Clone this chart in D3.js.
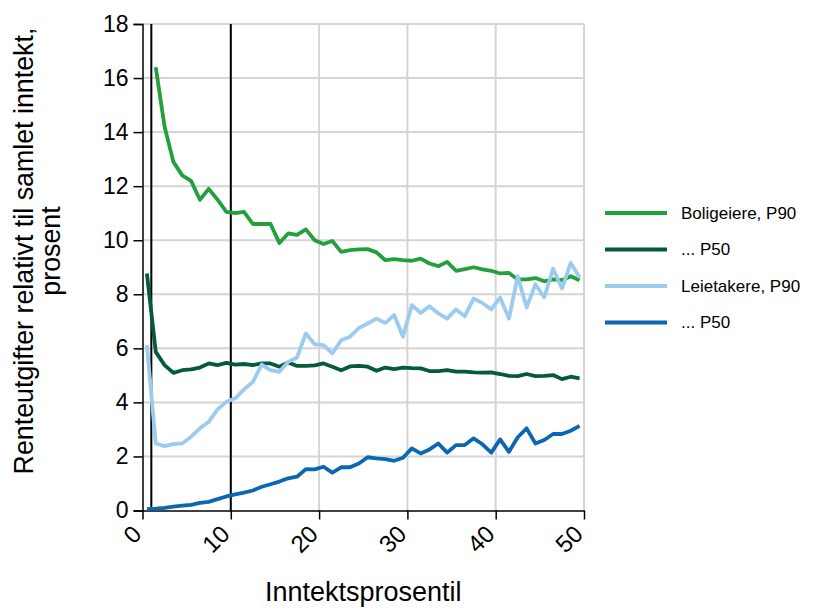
<!DOCTYPE html>
<html>
<head>
<meta charset="utf-8">
<script src="https://cdn.jsdelivr.net/npm/d3@7"></script>
<style>
  body { margin: 0; background: #fff; }
  svg { font-family: "Liberation Sans", Arial, sans-serif; }
</style>
</head>
<body>
<div id="showBox"></div>
<script>
// percentiles 0.5 .. 49.5
const percentiles = d3.range(50).map(i => i + 0.5)

const eierP90 = [null, 16.4, 14.2, 12.9, 12.4, 12.2, 11.5, 11.9, 11.5, 11.05,
    11.0, 11.05, 10.6, 10.6, 10.6, 9.9, 10.25, 10.2, 10.4, 10.0,
    9.86, 9.97, 9.57, 9.63, 9.66, 9.67, 9.55, 9.26, 9.3, 9.26,
    9.24, 9.32, 9.14, 9.04, 9.2, 8.87, 8.93, 9.0, 8.92, 8.87,
    8.77, 8.79, 8.55, 8.55, 8.6, 8.48, 8.55, 8.52, 8.67, 8.52]

const eierP50 = [8.77, 5.87, 5.38, 5.09, 5.19, 5.22, 5.29, 5.44, 5.38, 5.46,
    5.4, 5.42, 5.38, 5.44, 5.44, 5.32, 5.48, 5.35, 5.35, 5.37,
    5.44, 5.32, 5.19, 5.33, 5.35, 5.32, 5.17, 5.29, 5.23, 5.29,
    5.27, 5.26, 5.16, 5.16, 5.19, 5.14, 5.14, 5.11, 5.1, 5.11,
    5.05, 4.98, 4.97, 5.05, 4.97, 4.98, 5.01, 4.86, 4.95, 4.89]

const leieP90 = [6.12, 2.48, 2.38, 2.46, 2.48, 2.73, 3.04, 3.28, 3.74, 4.02,
    4.15, 4.48, 4.76, 5.4, 5.19, 5.13, 5.5, 5.66, 6.55, 6.15,
    6.12, 5.81, 6.3, 6.43, 6.75, 6.92, 7.1, 6.94, 7.23, 6.43,
    7.6, 7.31, 7.56, 7.29, 7.1, 7.44, 7.19, 7.84, 7.68, 7.44,
    7.88, 7.1, 8.67, 7.51, 8.37, 7.88, 8.95, 8.21, 9.16, 8.62]

const leieP50 = [0.05, 0.07, 0.1, 0.14, 0.18, 0.21, 0.28, 0.32, 0.42, 0.52,
    0.6, 0.66, 0.74, 0.88, 0.97, 1.07, 1.19, 1.25, 1.53, 1.52,
    1.62, 1.4, 1.6, 1.6, 1.74, 1.97, 1.93, 1.9, 1.84, 1.95,
    2.3, 2.11, 2.26, 2.48, 2.14, 2.42, 2.42, 2.67, 2.45, 2.14,
    2.63, 2.17, 2.71, 3.04, 2.48, 2.61, 2.83, 2.83, 2.95, 3.13]

const seriesNames = ["Boligeiere, P90", "... P50", "Leietakere, P90", "... P50"]
const seriesColors = ["#23a03c", "#045a3c", "#9ccbf0", "#0b67b2"]
const seriesValues = [eierP90, eierP50, leieP90, leieP50]

const xTicks = [0, 10, 20, 30, 40, 50]
const yTicks = [0, 2, 4, 6, 8, 10, 12, 14, 16, 18]
const markerLines = [1, 10]

const width = 832, height = 608
const margin = {left: 142.5, right: 248, top: 24, bottom: 97.5}

const svg = d3.select("#showBox").append("svg")
    .attr("width", width).attr("height", height)

const x = d3.scaleLinear().domain([0, 50]).range([margin.left, width - margin.right])
const y = d3.scaleLinear().domain([0, 18]).range([height - margin.bottom, margin.top])

// grid
svg.append("g")
    .attr("stroke", "#d4d4d4")
    .attr("stroke-width", 2)
    .call(g => g.selectAll(".h").data(yTicks.filter(d => d > 0)).join("line")
        .attr("x1", x(0)).attr("x2", x(50))
        .attr("y1", d => y(d)).attr("y2", d => y(d)))
    .call(g => g.selectAll(".v").data(xTicks.filter(d => d > 0)).join("line")
        .attr("y1", y(0)).attr("y2", y(18))
        .attr("x1", d => x(d)).attr("x2", d => x(d)))

// vertical marker lines
svg.append("g")
    .selectAll("line")
    .data(markerLines)
    .join("line")
    .attr("x1", d => x(d)).attr("x2", d => x(d))
    .attr("y1", y(0)).attr("y2", y(18))
    .attr("stroke", "#000")
    .attr("stroke-width", 2)

// axes
const yAxis = svg.append("g")
    .attr("transform", `translate(${x(0)},0)`)
    .call(d3.axisLeft(y).tickValues(yTicks).tickSize(9).tickPadding(5))
yAxis.select(".domain").attr("stroke-width", 1.5)
yAxis.selectAll(".tick line").attr("stroke-width", 1.5)
yAxis.selectAll("text").attr("font-size", 23).attr("fill", "#000")
    .attr("font-family", "Liberation Sans, Arial, sans-serif")

const xAxis = svg.append("g")
    .attr("transform", `translate(0,${y(0)})`)
    .call(d3.axisBottom(x).tickValues(xTicks).tickSize(9).tickSizeOuter(0))
xAxis.select(".domain").attr("stroke-width", 1.5)
xAxis.selectAll(".tick line").attr("stroke-width", 1.5)
xAxis.selectAll("text")
    .attr("font-size", 24).attr("fill", "#000")
    .attr("font-family", "Liberation Sans, Arial, sans-serif")
    .attr("text-anchor", "end")
    .attr("x", 0).attr("y", 0).attr("dy", "0.35em")
    .attr("transform", "translate(-6,19) rotate(-45)")

// lines
const line = d3.line()
    .defined(d => d[1] != null)
    .x(d => x(d[0]))
    .y(d => y(d[1]))

svg.append("g")
    .attr("fill", "none")
    .attr("stroke-width", 3.8)
    .attr("stroke-linejoin", "round")
    .selectAll("path")
    .data(seriesValues)
    .join("path")
    .attr("stroke", (d, i) => seriesColors[i])
    .attr("d", d => line(d.map((v, i) => [percentiles[i], v])))

// titles
svg.append("text")
    .attr("x", x(25)).attr("y", 601)
    .attr("text-anchor", "middle")
    .attr("font-size", 27)
    .text("Inntektsprosentil")

const yTitle = svg.append("text")
    .attr("transform", `translate(33,251) rotate(-90)`)
    .attr("text-anchor", "middle")
    .attr("font-size", 26.8)
yTitle.append("tspan").attr("x", 0).attr("dy", 0).text("Renteutgifter relativt til samlet inntekt,")
yTitle.append("tspan").attr("x", 0).attr("dy", 27).text("prosent")

// legend
const legend = svg.append("g")
    .selectAll("g")
    .data(seriesNames)
    .join("g")
    .attr("transform", (d, i) => `translate(605,${213 + i * 36.5})`)
legend.append("line")
    .attr("x1", 0).attr("x2", 62)
    .attr("stroke", (d, i) => seriesColors[i])
    .attr("stroke-width", 3.8)
legend.append("text")
    .attr("x", 76).attr("dy", "0.35em")
    .attr("font-size", 17)
    .text(d => d)
</script>
</body>
</html>
